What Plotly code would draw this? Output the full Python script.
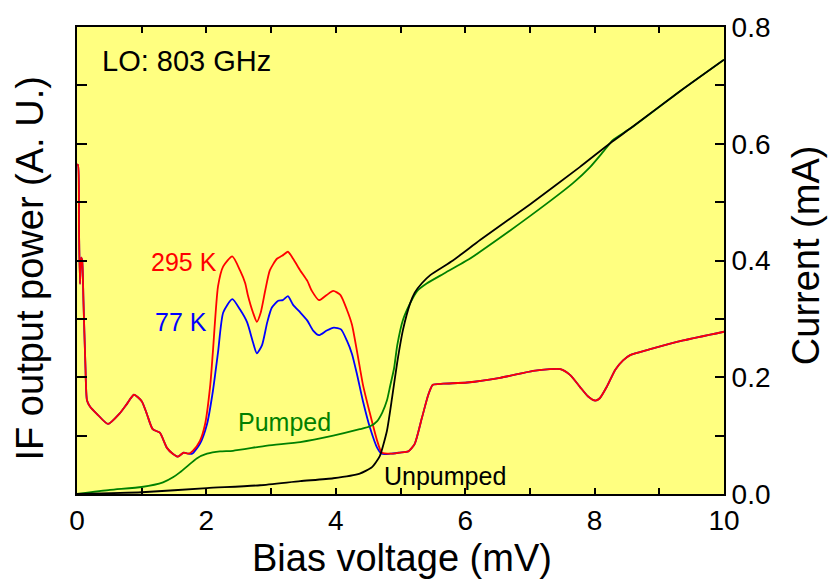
import plotly.graph_objects as go

# Bias voltage (mV) and IF output power (A.U.) at 295 K (hot load)
v_295 = [0.0, 0.015, 0.03, 0.046, 0.065, 0.08, 0.1, 0.13, 0.155, 0.2, 0.31, 0.48, 0.66, 0.77, 0.88, 1.0,
         1.08, 1.17, 1.28, 1.39, 1.48, 1.56, 1.65, 1.72, 1.79, 1.90, 1.98, 2.06, 2.10, 2.18, 2.26,
         2.40, 2.52, 2.60, 2.64, 2.72, 2.78, 2.84, 2.91, 2.98, 3.09, 3.17, 3.26, 3.34, 3.45, 3.56,
         3.63, 3.74, 3.86, 3.96, 4.07, 4.17, 4.25, 4.33, 4.42, 4.53, 4.64, 4.71, 4.84, 4.99, 5.12,
         5.22, 5.33, 5.43, 5.50, 5.66, 6.03, 6.54, 7.05, 7.31, 7.47, 7.62, 7.77, 7.90, 8.01, 8.08,
         8.19, 8.32, 8.44, 8.55, 8.86, 9.37, 10.0]
p_295 = [5.64, 5.64, 4.6, 3.6, 4.05, 4.0, 3.3, 2.2, 1.6, 1.5, 1.37, 1.20, 1.38, 1.54, 1.70, 1.59,
         1.37, 1.11, 1.05, 0.79, 0.69, 0.64, 0.71, 0.69, 0.74, 0.91, 1.20, 1.87, 2.43, 3.56, 3.90,
         4.07, 3.83, 3.61, 3.41, 3.11, 2.95, 3.11, 3.49, 3.83, 4.03, 4.08, 4.15, 4.03, 3.83, 3.65,
         3.48, 3.32, 3.41, 3.48, 3.41, 3.16, 2.90, 2.43, 1.87, 1.37, 0.91, 0.71, 0.69, 0.71, 0.73,
         0.86, 1.30, 1.70, 1.87, 1.89, 1.91, 1.99, 2.11, 2.14, 2.14, 2.04, 1.84, 1.67, 1.60, 1.64,
         1.84, 2.13, 2.29, 2.38, 2.48, 2.63, 2.78]

# IF output power (A.U.) at 77 K (cold load)
v_77 = [0.0, 0.015, 0.03, 0.046, 0.065, 0.08, 0.1, 0.13, 0.155, 0.2, 0.31, 0.48, 0.66, 0.77, 0.88, 1.0,
        1.08, 1.17, 1.28, 1.39, 1.48, 1.56, 1.65, 1.72, 1.78, 1.90, 2.01, 2.10, 2.18, 2.26, 2.40,
        2.52, 2.63, 2.72, 2.78, 2.86, 2.94, 3.01, 3.11, 3.18, 3.26, 3.34, 3.45, 3.56, 3.65, 3.74,
        3.86, 3.97, 4.08, 4.17, 4.25, 4.33, 4.42, 4.53, 4.64, 4.71, 4.84, 4.99, 5.12, 5.22, 5.33,
        5.43, 5.50, 5.66, 6.03, 6.54, 7.05, 7.31, 7.47, 7.62, 7.77, 7.90, 8.01, 8.08, 8.19, 8.32,
        8.44, 8.55, 8.86, 9.37, 10.0]
p_77 = [5.64, 5.64, 4.6, 3.6, 4.05, 4.0, 3.3, 2.2, 1.6, 1.5, 1.37, 1.20, 1.38, 1.54, 1.70, 1.59,
        1.37, 1.11, 1.05, 0.79, 0.69, 0.64, 0.71, 0.69, 0.69, 0.86, 1.20, 1.76, 2.43, 3.11, 3.34,
        3.16, 2.94, 2.60, 2.41, 2.55, 2.94, 3.19, 3.31, 3.32, 3.39, 3.24, 3.11, 2.97, 2.80, 2.72,
        2.80, 2.85, 2.82, 2.63, 2.40, 2.04, 1.59, 1.13, 0.79, 0.69, 0.69, 0.71, 0.73, 0.86, 1.30,
        1.70, 1.87, 1.89, 1.91, 1.99, 2.11, 2.14, 2.14, 2.04, 1.84, 1.67, 1.60, 1.64, 1.84, 2.13,
        2.29, 2.38, 2.48, 2.63, 2.78]

# Pumped I-V curve (mA)
v_pumped = [0.0, 0.51, 1.0, 1.33, 1.49, 1.59, 1.72, 1.85, 2.01, 2.21, 2.41, 2.94, 3.45, 3.96, 4.37,
            4.53, 4.64, 4.72, 4.79, 4.84, 4.90, 4.95, 5.04, 5.15, 5.26, 5.41, 5.66, 6.07, 6.23,
            7.0, 7.67, 7.93, 8.13, 8.28, 8.55, 9.32, 10.0]
i_pumped = [0.0, 0.007, 0.012, 0.020, 0.029, 0.037, 0.049, 0.061, 0.069, 0.073, 0.074, 0.083, 0.089,
            0.100, 0.111, 0.116, 0.125, 0.140, 0.160, 0.185, 0.215, 0.255, 0.299, 0.327, 0.348,
            0.361, 0.377, 0.403, 0.415, 0.476, 0.533, 0.560, 0.586, 0.606, 0.626, 0.690, 0.744]

# Unpumped I-V curve (mA)
v_unpumped = [0.0, 1.0, 2.01, 2.83, 3.45, 3.96, 4.37, 4.56, 4.68, 4.79, 4.87, 4.95, 5.04, 5.15,
              5.22, 5.33, 5.46, 5.81, 6.23, 7.0, 7.77, 8.24, 8.55, 9.32, 10.0]
i_unpumped = [0.0, 0.003, 0.010, 0.015, 0.022, 0.027, 0.035, 0.046, 0.065, 0.108, 0.165, 0.226,
              0.282, 0.327, 0.345, 0.361, 0.375, 0.400, 0.435, 0.496, 0.560, 0.601, 0.626, 0.690,
              0.744]

x_tickvals = [0, 2, 4, 6, 8, 10]
y2_tickvals = [0.0, 0.2, 0.4, 0.6, 0.8]
y2_ticktext = ["0.0", "0.2", "0.4", "0.6", "0.8"]

FONT = "Liberation Sans, Arial, sans-serif"
LW = 1.8

fig = go.Figure()
fig.add_trace(go.Scatter(x=v_pumped, y=i_pumped, mode="lines", yaxis="y2",
                         line=dict(color="#008000", width=LW, shape="spline", smoothing=0.5)))
fig.add_trace(go.Scatter(x=v_unpumped, y=i_unpumped, mode="lines", yaxis="y2",
                         line=dict(color="#000000", width=LW, shape="spline", smoothing=0.5)))
fig.add_trace(go.Scatter(x=v_77, y=p_77, mode="lines", yaxis="y",
                         line=dict(color="#0000FF", width=LW, shape="spline", smoothing=0.6)))
fig.add_trace(go.Scatter(x=v_295, y=p_295, mode="lines", yaxis="y",
                         line=dict(color="#FF0000", width=LW, shape="spline", smoothing=0.6)))

ann = []
def txt(x, y, s, color, size, xref="x", yref="y", anchor="center", angle=0):
    ann.append(dict(x=x, y=y, xref=xref, yref=yref, text=s, showarrow=False,
                    font=dict(family=FONT, size=size, color=color),
                    xanchor=anchor, yanchor="middle", textangle=angle))

txt(0.36, 7.41, "LO: 803 GHz", "black", 29, anchor="left")
txt(1.65, 3.98, "295 K", "#FF0000", 25)
txt(1.61, 2.95, "77 K", "#0000FF", 25)
txt(3.2, 1.23, "Pumped", "#008000", 25)
txt(5.69, 0.30, "Unpumped", "black", 25)
txt(0.502, -0.137, "Bias voltage (mV)", "black", 38, xref="paper", yref="paper")
txt(-0.0726, 0.483, "IF output power (A. U.)", "black", 38, xref="paper", yref="paper", angle=-90)
txt(1.128, 0.511, "Current (mA)", "black", 38, xref="paper", yref="paper", angle=-90)

fig.update_layout(
    width=831, height=582,
    margin=dict(l=77, r=107, t=20, b=88),
    paper_bgcolor="white", plot_bgcolor="#FFFF80",
    showlegend=False,
    font=dict(family=FONT, color="black"),
    annotations=ann,
    xaxis=dict(range=[0, 10], tickvals=x_tickvals, ticks="inside", ticklen=6, tickwidth=1.5,
               tickcolor="black", minor=dict(dtick=1, ticks="inside", ticklen=6, tickwidth=1.5, tickcolor="black"),
               showline=True, linecolor="black", linewidth=2, mirror="ticks", showgrid=False, zeroline=False,
               tickfont=dict(size=28, family=FONT)),
    yaxis=dict(range=[0, 8], dtick=1, ticks="inside", ticklen=10, tickwidth=1.5, tickcolor="black",
               showticklabels=False, showline=True, linecolor="black", linewidth=2,
               showgrid=False, zeroline=False),
    yaxis2=dict(range=[0, 0.8], overlaying="y", side="right", tickvals=y2_tickvals, ticktext=y2_ticktext,
                ticks="inside", ticklen=9, tickwidth=1.5, tickcolor="black",
                minor=dict(dtick=0.1, ticks="inside", ticklen=9, tickwidth=1.5, tickcolor="black"),
                showline=True, linecolor="black", linewidth=2, showgrid=False, zeroline=False,
                tickfont=dict(size=28, family=FONT)),
)
fig.write_html("out.html")
